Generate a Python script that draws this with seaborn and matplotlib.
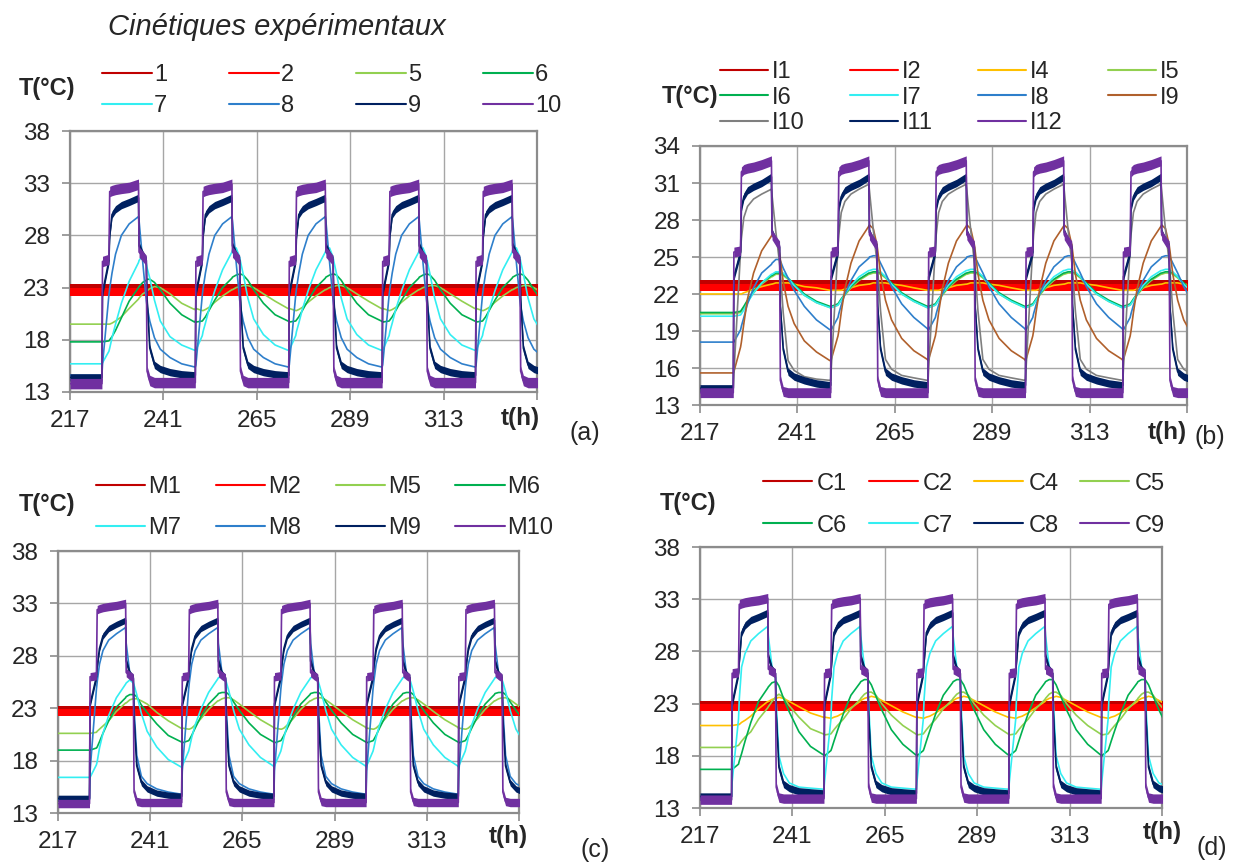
import numpy as np
import seaborn as sns
import matplotlib.pyplot as plt
from matplotlib.lines import Line2D

sns.set_style("white")
plt.rcParams['font.family'] = ['Liberation Sans', 'DejaVu Sans']

W, H = 1255, 863

# time base (h)
T_START, T_END = 217, 337
T_ON = 225.2          # start of the first heating phase
PERIOD = 24
N_CYCLES = 5
# sample times inside one cycle (h after heating start)
OFFSETS = [0, 0.15, 1.8, 2.0, 2.6, 3.5, 5, 7, 9.4, 9.55, 10.5, 11.4, 11.6, 12.3, 13.5, 15, 17.5, 20.5, 23.8]
X_TICKS = [217, 241, 265, 289, 313, 337]
X_LABELS = ['217', '241', '265', '289', '313', '']

C_RED1, C_RED2 = '#C00000', '#FF0000'
C_YEL, C_LGRN, C_GRN = '#FFC000', '#92D050', '#00B050'
C_CYAN, C_BLUE, C_NAVY = '#33EEF2', '#2E7FCB', '#002060'
C_PURP, C_BROWN, C_GREY = '#7030A0', '#B0602C', '#7F7F7F'

# ---------------- panel (a) ----------------
A_names = ['1', '2', '5', '6', '7', '8', '9', '10']
A_colors = [C_RED1, C_RED2, C_LGRN, C_GRN, C_CYAN, C_BLUE, C_NAVY, C_PURP]
A_init = {'1': 22.95, '2': 22.6, '5': 19.5, '6': 17.8, '7': 15.7, '8': 14.6, '9': 14.4, '10': 13.8}
A_cycle = {
    '1': [22.95, 22.95, 22.95, 22.95, 22.95, 22.95, 22.95, 22.95, 22.95, 22.95, 22.95, 22.95, 22.95, 22.95, 22.95, 22.95, 22.95, 22.95, 22.95],
    '2': [22.6, 22.6, 22.6, 22.6, 22.6, 22.6, 22.6, 22.6, 22.6, 22.6, 22.6, 22.6, 22.6, 22.6, 22.6, 22.6, 22.6, 22.6, 22.6],
    '5': [21.0, 21.0, 20.8, 20.8, 20.9, 21.1, 21.6, 22.2, 22.8, 22.8, 23.0, 23.1, 23.1, 23.2, 23.2, 23.0, 22.4, 21.7, 21.0],
    '6': [19.8, 19.7, 19.8, 19.9, 20.2, 20.8, 21.8, 23.0, 23.9, 24.0, 24.2, 24.3, 24.3, 24.2, 23.7, 22.8, 21.5, 20.4, 19.8],
    '7': [17.0, 17.0, 18.4, 18.8, 19.6, 20.9, 22.7, 24.7, 26.4, 26.6, 26.8, 25.9, 25.5, 24.3, 22.0, 20.0, 18.5, 17.5, 17.0],
    '8': [15.4, 15.6, 22.3, 22.9, 24.4, 26.2, 28.0, 29.1, 29.8, 29.4, 25.4, 21.8, 21.2, 19.8, 18.2, 17.1, 16.3, 15.7, 15.4],
    '9': [14.6, 22.5, 25.6, 28.0, 30.0, 30.5, 30.9, 31.2, 31.6, 27.0, 26.2, 25.6, 22.0, 17.2, 15.6, 15.2, 14.9, 14.7, 14.6],
    '10': [13.9, 25.5, 25.7, 32.2, 32.3, 32.4, 32.5, 32.6, 32.9, 26.4, 26.0, 25.6, 15.0, 14.1, 13.9, 13.9, 13.9, 13.9, 13.9],
}
A_first = {
    '5': [19.5, 19.5, 19.5, 19.5, 19.6, 19.8, 20.2, 21.0, 21.9, 22.0, 22.4, 22.6, 22.7, 22.9, 23.1, 23.0, 22.4, 21.5, 20.9],
    '6': [17.8, 17.8, 17.9, 18.0, 18.3, 18.9, 20.1, 21.7, 23.0, 23.1, 23.5, 23.7, 23.8, 23.8, 23.5, 22.8, 21.5, 20.4, 19.7],
    '7': [15.7, 15.8, 16.9, 17.2, 18.2, 19.5, 21.5, 23.6, 25.4, 25.6, 26.1, 25.3, 24.9, 23.9, 21.8, 19.8, 18.3, 17.5, 17.0],
}
A_noise = {'1': 0.4, '2': 0.4, '9': 0.35, '10': 0.5}

# ---------------- panel (b) ----------------
B_names = ['I1', 'I2', 'I4', 'I5', 'I6', 'I7', 'I8', 'I9', 'I10', 'I11', 'I12']
B_colors = [C_RED1, C_RED2, C_YEL, C_LGRN, C_GRN, C_CYAN, C_BLUE, C_BROWN, C_GREY, C_NAVY, C_PURP]
B_init = {'I1': 22.8, 'I2': 22.55, 'I4': 22.0, 'I5': 20.4, 'I6': 20.5, 'I7': 20.2, 'I8': 18.1,
          'I9': 15.6, 'I10': 14.4, 'I11': 14.35, 'I12': 14.0}
B_cycle = {
    'I1': [22.8, 22.8, 22.8, 22.8, 22.8, 22.8, 22.8, 22.8, 22.8, 22.8, 22.8, 22.8, 22.8, 22.8, 22.8, 22.8, 22.8, 22.8, 22.8],
    'I2': [22.55, 22.55, 22.55, 22.55, 22.55, 22.55, 22.55, 22.55, 22.55, 22.55, 22.55, 22.55, 22.55, 22.55, 22.55, 22.55, 22.55, 22.55, 22.55],
    'I4': [22.3, 22.3, 22.3, 22.3, 22.3, 22.4, 22.5, 22.7, 22.8, 22.8, 22.9, 22.9, 22.9, 22.9, 22.9, 22.8, 22.7, 22.5, 22.3],
    'I5': [20.9, 20.9, 21.1, 21.2, 21.5, 21.9, 22.5, 23.1, 23.6, 23.6, 23.7, 23.7, 23.7, 23.6, 23.3, 22.8, 22.0, 21.4, 20.9],
    'I6': [21.0, 21.0, 21.2, 21.3, 21.6, 22.0, 22.6, 23.2, 23.7, 23.7, 23.8, 23.8, 23.8, 23.7, 23.4, 22.9, 22.1, 21.5, 21.0],
    'I7': [20.9, 20.9, 21.1, 21.2, 21.5, 22.0, 22.7, 23.4, 23.9, 23.9, 24.0, 24.0, 23.9, 23.8, 23.4, 22.8, 22.0, 21.4, 20.9],
    'I8': [19.1, 19.1, 20.1, 20.4, 21.1, 22.0, 23.1, 24.2, 24.9, 25.0, 25.1, 25.1, 25.0, 24.5, 23.7, 22.6, 21.2, 20.1, 19.2],
    'I9': [16.6, 16.7, 18.6, 19.0, 20.5, 22.4, 24.5, 26.3, 27.5, 27.6, 27.3, 26.0, 25.5, 23.6, 21.5, 19.9, 18.4, 17.4, 16.7],
    'I10': [15.0, 16.0, 25.8, 26.8, 28.6, 29.5, 30.1, 30.5, 30.9, 30.4, 27.2, 24.6, 23.9, 20.6, 16.7, 15.9, 15.4, 15.2, 15.0],
    'I11': [14.6, 23.4, 25.4, 29.0, 29.9, 30.4, 30.7, 31.0, 31.5, 27.0, 26.3, 25.8, 21.0, 17.5, 15.7, 15.3, 15.0, 14.75, 14.6],
    'I12': [14.0, 25.4, 25.5, 31.9, 32.1, 32.2, 32.3, 32.5, 32.8, 26.8, 26.3, 25.9, 15.0, 14.1, 14.0, 14.0, 14.0, 14.0, 14.0],
}
B_first = {
    'I4': [22.0, 22.0, 22.0, 22.0, 22.1, 22.2, 22.4, 22.6, 22.8, 22.8, 22.9, 22.9, 22.9, 22.9, 22.9, 22.8, 22.6, 22.5, 22.3],
    'I5': [20.4, 20.4, 20.5, 20.6, 20.9, 21.4, 22.1, 22.8, 23.4, 23.4, 23.6, 23.6, 23.6, 23.5, 23.2, 22.7, 21.9, 21.3, 20.9],
    'I6': [20.5, 20.5, 20.6, 20.7, 21.0, 21.5, 22.2, 22.9, 23.5, 23.5, 23.7, 23.7, 23.7, 23.6, 23.3, 22.8, 22.0, 21.4, 21.0],
    'I7': [20.2, 20.2, 20.3, 20.4, 20.7, 21.3, 22.1, 22.9, 23.6, 23.6, 23.8, 23.8, 23.8, 23.7, 23.3, 22.7, 21.9, 21.3, 20.9],
    'I8': [18.1, 18.1, 19.1, 19.4, 20.1, 21.2, 22.5, 23.7, 24.4, 24.5, 24.8, 24.8, 24.7, 24.1, 23.3, 22.3, 21.0, 19.9, 19.1],
    'I9': [15.6, 15.7, 17.7, 18.1, 19.6, 21.6, 23.7, 25.5, 26.7, 26.8, 26.5, 25.3, 24.8, 23.0, 21.0, 19.6, 18.2, 17.3, 16.6],
    'I10': [14.4, 15.5, 25.5, 26.5, 28.2, 29.1, 29.7, 30.1, 30.5, 30.0, 27.0, 24.5, 23.8, 20.5, 16.6, 15.8, 15.3, 15.1, 15.0],
}
B_noise = {'I1': 0.3, 'I2': 0.3, 'I11': 0.3, 'I12': 0.4}

# ---------------- panel (c) ----------------
C_names = ['M1', 'M2', 'M5', 'M6', 'M7', 'M8', 'M9', 'M10']
C_colors = [C_RED1, C_RED2, C_LGRN, C_GRN, C_CYAN, C_BLUE, C_NAVY, C_PURP]
C_init = {'M1': 22.85, 'M2': 22.6, 'M5': 20.6, 'M6': 19.0, 'M7': 16.4, 'M8': 14.3, 'M9': 14.4, 'M10': 13.9}
C_cycle = {
    'M1': [22.85, 22.85, 22.85, 22.85, 22.85, 22.85, 22.85, 22.85, 22.85, 22.85, 22.85, 22.85, 22.85, 22.85, 22.85, 22.85, 22.85, 22.85, 22.85],
    'M2': [22.6, 22.6, 22.6, 22.6, 22.6, 22.6, 22.6, 22.6, 22.6, 22.6, 22.6, 22.6, 22.6, 22.6, 22.6, 22.6, 22.6, 22.6, 22.6],
    'M5': [21.1, 21.1, 21.0, 21.0, 21.1, 21.4, 22.0, 22.9, 23.7, 23.7, 23.9, 24.0, 24.0, 24.0, 23.8, 23.4, 22.7, 21.9, 21.2],
    'M6': [19.8, 19.7, 19.9, 20.0, 20.4, 21.1, 22.2, 23.4, 24.3, 24.4, 24.5, 24.5, 24.5, 24.3, 23.6, 22.8, 21.6, 20.5, 19.8],
    'M7': [17.4, 17.5, 18.9, 19.2, 20.2, 21.4, 22.9, 24.5, 25.8, 25.9, 26.0, 25.7, 25.5, 24.6, 22.8, 21.0, 19.5, 18.3, 17.5],
    'M8': [14.8, 17.0, 24.8, 25.5, 27.2, 28.5, 29.5, 30.1, 30.7, 29.2, 26.3, 25.8, 23.0, 18.5, 16.5, 15.8, 15.3, 15.0, 14.8],
    'M9': [14.6, 23.4, 26.0, 27.0, 28.7, 29.9, 30.6, 31.0, 31.4, 27.5, 26.3, 25.9, 22.0, 17.5, 15.9, 15.3, 14.9, 14.7, 14.6],
    'M10': [14.0, 26.0, 26.1, 32.4, 32.5, 32.6, 32.7, 32.8, 33.0, 26.4, 26.1, 25.9, 15.0, 14.1, 14.0, 14.0, 14.0, 14.0, 14.0],
}
C_first = {
    'M5': [20.6, 20.6, 20.7, 20.8, 21.0, 21.3, 21.8, 22.7, 23.5, 23.5, 23.8, 23.9, 23.9, 23.9, 23.7, 23.4, 22.6, 21.8, 21.1],
    'M6': [19.0, 19.0, 19.2, 19.3, 19.8, 20.6, 21.8, 23.1, 24.0, 24.1, 24.3, 24.3, 24.3, 24.1, 23.3, 22.6, 21.5, 20.4, 19.8],
    'M7': [16.4, 16.4, 17.6, 17.9, 19.2, 20.6, 22.3, 24.0, 25.3, 25.4, 25.7, 25.4, 25.2, 24.3, 22.5, 20.8, 19.3, 18.1, 17.4],
}
C_noise = {'M1': 0.35, 'M2': 0.35, 'M9': 0.3, 'M10': 0.4}

# ---------------- panel (d) ----------------
D_names = ['C1', 'C2', 'C4', 'C5', 'C6', 'C7', 'C8', 'C9']
D_colors = [C_RED1, C_RED2, C_YEL, C_LGRN, C_GRN, C_CYAN, C_NAVY, C_PURP]
D_init = {'C1': 22.9, 'C2': 22.6, 'C4': 20.9, 'C5': 18.8, 'C6': 16.7, 'C7': 14.1, 'C8': 14.1, 'C9': 13.8}
D_cycle = {
    'C1': [22.9, 22.9, 22.9, 22.9, 22.9, 22.9, 22.9, 22.9, 22.9, 22.9, 22.9, 22.9, 22.9, 22.9, 22.9, 22.9, 22.9, 22.9, 22.9],
    'C2': [22.6, 22.6, 22.6, 22.6, 22.6, 22.6, 22.6, 22.6, 22.6, 22.6, 22.6, 22.6, 22.6, 22.6, 22.6, 22.6, 22.6, 22.6, 22.6],
    'C4': [21.7, 21.7, 21.6, 21.6, 21.7, 21.8, 22.1, 22.6, 23.2, 23.3, 23.5, 23.6, 23.6, 23.7, 23.6, 23.3, 22.8, 22.2, 21.7],
    'C5': [20.1, 20.0, 20.1, 20.2, 20.5, 20.9, 21.5, 22.5, 23.4, 23.5, 23.9, 24.1, 24.1, 24.1, 23.8, 23.0, 21.9, 20.9, 20.1],
    'C6': [18.1, 18.0, 18.5, 18.7, 19.4, 20.4, 22.0, 23.8, 25.0, 25.1, 25.3, 25.3, 25.2, 24.8, 23.7, 22.4, 20.5, 19.1, 18.1],
    'C7': [14.8, 15.5, 21.5, 23.4, 26.5, 27.8, 29.0, 29.7, 30.4, 29.5, 26.5, 25.5, 23.0, 18.0, 16.3, 15.4, 15.0, 14.9, 14.8],
    'C8': [14.4, 23.0, 25.9, 27.0, 29.8, 30.5, 31.0, 31.3, 31.7, 27.5, 26.3, 25.9, 22.0, 16.9, 15.3, 14.9, 14.6, 14.5, 14.4],
    'C9': [13.9, 25.9, 26.0, 32.5, 32.6, 32.7, 32.8, 32.9, 33.1, 26.3, 26.1, 25.9, 15.0, 14.0, 13.9, 13.9, 13.9, 13.9, 13.9],
}
D_first = {
    'C4': [20.9, 20.9, 21.0, 21.0, 21.2, 21.4, 21.8, 22.5, 23.2, 23.2, 23.4, 23.5, 23.5, 23.6, 23.5, 23.2, 22.7, 22.1, 21.7],
    'C5': [18.8, 18.8, 19.0, 19.1, 19.4, 19.8, 20.3, 21.5, 22.6, 22.7, 23.2, 23.6, 23.7, 23.9, 23.6, 22.8, 21.7, 20.6, 20.1],
    'C6': [16.7, 16.7, 17.2, 17.5, 18.2, 19.4, 21.2, 23.2, 24.5, 24.6, 25.0, 25.1, 25.1, 24.7, 23.5, 22.2, 20.3, 18.9, 18.1],
}
D_noise = {'C1': 0.35, 'C2': 0.35, 'C8': 0.35, 'C9': 0.45}


def trace(init, cycle, first=None):
    # flat start, then the cycle profile repeated for each day
    ts, vs = [T_START], [init]
    for k in range(N_CYCLES):
        prof = first if (k == 0 and first is not None) else cycle
        t0 = T_ON + k * PERIOD
        for i, (o, v) in enumerate(zip(OFFSETS, prof)):
            if k == 0 and i == 0:
                v = init
            ts.append(t0 + o)
            vs.append(v)
    return np.array(ts), np.array(vs)


def col_major(items, ncol):
    # matplotlib fills legend columns first, reorder so it reads row by row
    n = len(items)
    nr, nl = divmod(n, ncol)
    rows = [nr + 1] * nl + [nr] * (ncol - nl)
    return [items[i * ncol + j] for j in range(ncol) for i in range(rows[j])]


def px_rect(l, r, t, b):
    return [l / W, 1 - b / H, (r - l) / W, (b - t) / H]


def draw_panel(rect, names, colors, init, cycle, first, noise, yticks, leg):
    ax = fig.add_axes(px_rect(*rect))
    for i, name in enumerate(names):
        t, v = trace(init[name], cycle[name], first.get(name))
        sns.lineplot(x=t, y=v, color=colors[i], lw=1.2, ax=ax,
                     estimator=None, sort=False, zorder=3 + i)
        s = noise.get(name, 0)
        if s:
            ax.fill_between(t, v - s, v + s, color=colors[i], lw=0, zorder=3 + i)

    ax.set_xlim(T_START, T_END)
    ax.set_ylim(yticks[0], yticks[-1])
    ax.set_xticks(X_TICKS)
    ax.set_xticklabels(X_LABELS)
    ax.set_yticks(yticks)
    ax.set(xlabel='', ylabel='')
    ax.grid(True, color='#A6A6A6', lw=1.0)
    ax.set_axisbelow(True)
    for sp in ax.spines.values():
        sp.set_visible(True)
        sp.set_color('#8C8C8C')
        sp.set_linewidth(1.6)
    ax.tick_params(direction='out', length=5.8, width=1.2, color='#8C8C8C',
                   labelsize=17.5, left=True, bottom=True)
    ax.tick_params(axis='y', pad=8.5)
    ax.tick_params(axis='x', pad=7)

    handles = [Line2D([], [], color=c, lw=1.5) for c in colors]
    x0, ytop, hl, tp, cs, ls = leg
    fig.legend(col_major(handles, 4), col_major(names, 4), loc='upper left',
               bbox_to_anchor=(x0 / W, 1 - ytop / H), bbox_transform=fig.transFigure,
               ncol=4, frameon=False, fontsize=17, borderpad=0, borderaxespad=0,
               handlelength=hl, handletextpad=tp, columnspacing=cs, labelspacing=ls)
    return ax


fig = plt.figure(figsize=(W / 100, H / 100), dpi=100)

draw_panel((70, 537, 131, 392), A_names, A_colors, A_init, A_cycle, A_first, A_noise,
           [13, 18, 23, 28, 33, 38], (102, 64.4, 2.12, 0.08, 2.62, 0.37))
draw_panel((700, 1187, 146, 405), B_names, B_colors, B_init, B_cycle, B_first, B_noise,
           [13, 16, 19, 22, 25, 28, 31, 34], (720, 61.4, 2.03, 0.15, 1.94, 0.14))
draw_panel((58, 519, 551, 813), C_names, C_colors, C_init, C_cycle, C_first, C_noise,
           [13, 18, 23, 28, 33, 38], (96, 476, 2.08, 0.13, 1.47, 0.8))
draw_panel((700, 1162, 547, 808), D_names, D_colors, D_init, D_cycle, D_first, D_noise,
           [13, 18, 23, 28, 33, 38], (762.7, 472.7, 2.08, 0.22, 0.9, 0.84))

# free text: title, axis names, panel letters
fig.text(108 / W, 1 - 27 / H, 'Cinétiques expérimentaux', style='italic', fontsize=21, va='center')
for x, y in [(47, 89), (690, 97), (47, 505), (688, 503)]:
    fig.text(x / W, 1 - y / H, 'T(°C)', fontweight='bold', fontsize=17, ha='center', va='center')
for x, y in [(520, 418), (1167, 433), (508, 836), (1162, 832)]:
    fig.text(x / W, 1 - y / H, 't(h)', fontweight='bold', fontsize=17.5, ha='center', va='center')
for x, y, s in [(585, 433, '(a)'), (1210, 437, '(b)'), (595, 850, '(c)'), (1212, 848, '(d)')]:
    fig.text(x / W, 1 - y / H, s, fontsize=18, ha='center', va='center')

fig.savefig('out.png', dpi=100)
